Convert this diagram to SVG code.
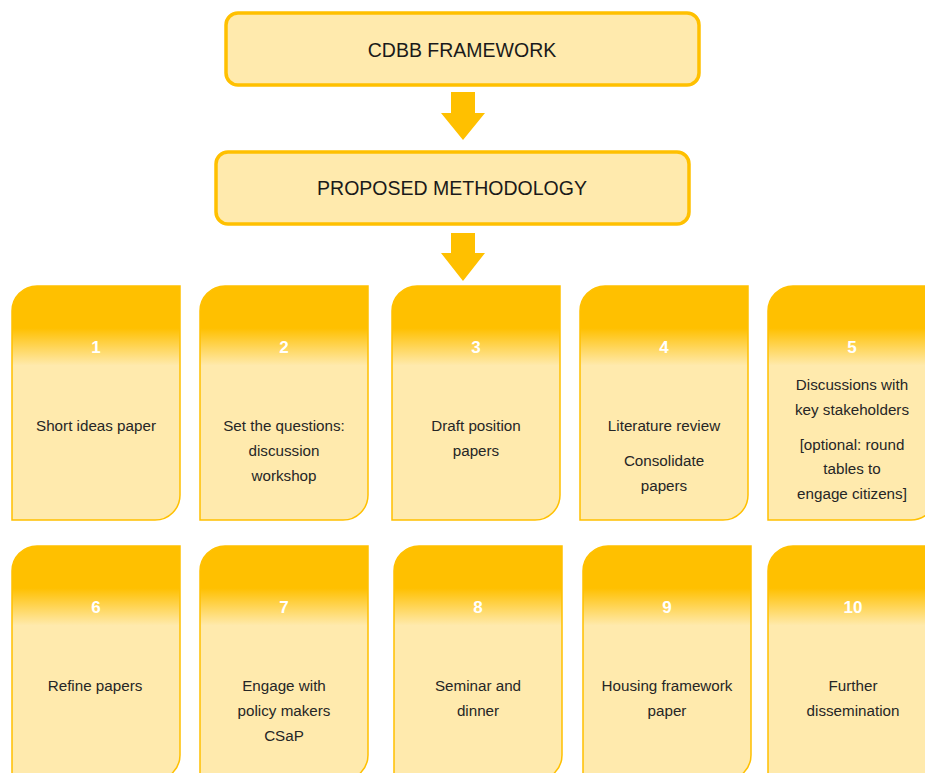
<svg xmlns="http://www.w3.org/2000/svg" width="925" height="773" viewBox="0 0 925 773">
<style>
.box{fill:#FFEAAD;stroke:#FFC000;stroke-width:3.5}
.card{fill:url(#g);stroke:#FFC000;stroke-width:1.5}
.arrow{fill:#FFC000}
.title{font-family:"Liberation Sans",Arial,sans-serif;font-size:19.5px;fill:#1a1a1a;text-anchor:middle}
.num{font-family:"Liberation Sans",Arial,sans-serif;font-size:17px;font-weight:bold;fill:#ffffff;text-anchor:middle}
.t{font-family:"Liberation Sans",Arial,sans-serif;font-size:15.2px;fill:#262626;text-anchor:middle}
</style>
<defs>
<linearGradient id="g" x1="0" y1="0" x2="0" y2="1">
<stop offset="0" stop-color="#FFC000"/>
<stop offset="0.18" stop-color="#FFC000"/>
<stop offset="0.34" stop-color="#FFEAAD"/>
<stop offset="1" stop-color="#FFEAAD"/>
</linearGradient>
<path id="cp" d="M25 0H168V209A25 25 0 0 1 143 234H0V25A25 25 0 0 1 25 0Z"/>
</defs>
<g id="framework">
<rect class="box" x="226" y="13" width="473" height="72" rx="12"/>
<text class="title" x="462" y="57">CDBB FRAMEWORK</text>
</g>
<g id="methodology">
<rect class="box" x="216" y="152" width="473" height="72" rx="12"/>
<text class="title" x="452" y="195">PROPOSED METHODOLOGY</text>
</g>
<g id="connectors">
<path class="arrow" d="M451 92H475V113H485L463 140L441 113H451Z"/>
<path class="arrow" d="M451 233H475V253H485L463 281L441 253H451Z"/>
</g>
<g id="card1">
<use href="#cp" class="card" x="12" y="286"/>
<text class="num" x="96" y="353">1</text>
<text class="t" x="96" y="431">Short ideas paper</text>
</g>
<g id="card2">
<use href="#cp" class="card" x="200" y="286"/>
<text class="num" x="284" y="353">2</text>
<text class="t" x="284" y="431">Set the questions:</text>
<text class="t" x="284" y="456">discussion</text>
<text class="t" x="284" y="481">workshop</text>
</g>
<g id="card3">
<use href="#cp" class="card" x="392" y="286"/>
<text class="num" x="476" y="353">3</text>
<text class="t" x="476" y="431">Draft position</text>
<text class="t" x="476" y="456">papers</text>
</g>
<g id="card4">
<use href="#cp" class="card" x="580" y="286"/>
<text class="num" x="664" y="353">4</text>
<text class="t" x="664" y="431">Literature review</text>
<text class="t" x="664" y="466">Consolidate</text>
<text class="t" x="664" y="491">papers</text>
</g>
<g id="card5">
<use href="#cp" class="card" x="768" y="286"/>
<text class="num" x="852" y="353">5</text>
<text class="t" x="852" y="390">Discussions with</text>
<text class="t" x="852" y="415">key stakeholders</text>
<text class="t" x="852" y="450">[optional: round</text>
<text class="t" x="852" y="474">tables to</text>
<text class="t" x="852" y="499">engage citizens]</text>
</g>
<g id="card6">
<use href="#cp" class="card" x="12" y="546"/>
<text class="num" x="96" y="613">6</text>
<text class="t" x="95" y="691">Refine papers</text>
</g>
<g id="card7">
<use href="#cp" class="card" x="200" y="546"/>
<text class="num" x="284" y="613">7</text>
<text class="t" x="284" y="691">Engage with</text>
<text class="t" x="284" y="716">policy makers</text>
<text class="t" x="284" y="741">CSaP</text>
</g>
<g id="card8">
<use href="#cp" class="card" x="394" y="546"/>
<text class="num" x="478" y="613">8</text>
<text class="t" x="478" y="691">Seminar and</text>
<text class="t" x="478" y="716">dinner</text>
</g>
<g id="card9">
<use href="#cp" class="card" x="583" y="546"/>
<text class="num" x="667" y="613">9</text>
<text class="t" x="667" y="691">Housing framework</text>
<text class="t" x="667" y="716">paper</text>
</g>
<g id="card10">
<use href="#cp" class="card" x="768" y="546"/>
<text class="num" x="853" y="613">10</text>
<text class="t" x="853" y="691">Further</text>
<text class="t" x="853" y="716">dissemination</text>
</g>
</svg>
